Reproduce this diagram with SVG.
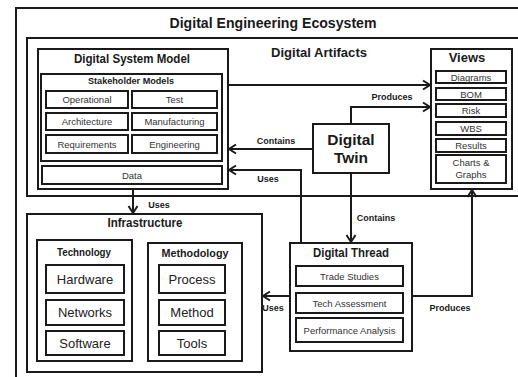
<svg xmlns="http://www.w3.org/2000/svg" width="518" height="377" viewBox="0 0 518 377">
<defs>
<style>
rect{fill:#fff;stroke:#1a1a1a;stroke-width:2}
.c{fill:none;stroke:#1a1a1a;stroke-width:2}
text{font-family:"Liberation Sans",Arial,sans-serif;fill:#1a1a1a;text-anchor:middle}
.b{font-weight:bold}
.s{font-size:9.5px;fill:#333}
.l{font-size:9px;font-weight:bold}
.m{font-size:13px;fill:#222}
</style>
<marker id="a" markerUnits="userSpaceOnUse" markerWidth="12" markerHeight="12" refX="10" refY="6" orient="auto">
<path d="M3,1.5 L10,6 L3,10.5" fill="none" stroke="#1a1a1a" stroke-width="2"/>
</marker>
</defs>
<rect width="518" height="377" style="fill:#fff;stroke:none"/>
<g id="ecosystem">
<rect x="16" y="8" width="510" height="380"/>
<text class="b" x="273" y="28" font-size="15" textLength="207" lengthAdjust="spacingAndGlyphs">Digital Engineering Ecosystem</text>
</g>
<g id="digital-artifacts">
<rect x="27" y="38" width="500" height="158"/>
<text class="b" x="319" y="57" font-size="13.5" textLength="96" lengthAdjust="spacingAndGlyphs">Digital Artifacts</text>
</g>
<g id="digital-system-model">
<rect x="38" y="49" width="190" height="140"/>
<text class="b" x="132" y="63" font-size="13" textLength="116" lengthAdjust="spacingAndGlyphs">Digital System Model</text>
<rect x="41" y="74" width="181" height="87"/>
<text class="b" x="131" y="84" font-size="9" textLength="86" lengthAdjust="spacingAndGlyphs">Stakeholder Models</text>
<rect x="46" y="91" width="82" height="17"/><text class="s" x="87" y="103">Operational</text>
<rect x="132" y="91" width="85" height="17"/><text class="s" x="174.5" y="103">Test</text>
<rect x="46" y="113" width="82" height="17"/><text class="s" x="87" y="125">Architecture</text>
<rect x="132" y="113" width="85" height="17"/><text class="s" x="174.5" y="125">Manufacturing</text>
<rect x="46" y="135" width="82" height="18"/><text class="s" x="87" y="147.5">Requirements</text>
<rect x="132" y="135" width="85" height="18"/><text class="s" x="174.5" y="147.5">Engineering</text>
<rect x="42" y="166" width="180" height="18"/><text class="s" x="132" y="178.5">Data</text>
</g>
<g id="views">
<rect x="431" y="49" width="81" height="140"/>
<text class="b" x="467" y="62" font-size="13">Views</text>
<rect x="436" y="71" width="70" height="12"/><text class="s" x="471" y="80.5">Diagrams</text>
<rect x="436" y="88" width="70" height="12"/><text class="s" x="471" y="97.5">BOM</text>
<rect x="436" y="104" width="70" height="13"/><text class="s" x="471" y="114">Risk</text>
<rect x="436" y="122" width="70" height="13"/><text class="s" x="471" y="132">WBS</text>
<rect x="436" y="139" width="70" height="13"/><text class="s" x="471" y="149">Results</text>
<rect x="436" y="155" width="70" height="28"/><text class="s" x="471" y="166">Charts &amp;</text><text class="s" x="471" y="178">Graphs</text>
</g>
<g id="digital-twin">
<rect x="313" y="124" width="76" height="49"/>
<text class="b" x="351" y="145" font-size="15.5">Digital</text>
<text class="b" x="351" y="163" font-size="15.5">Twin</text>
</g>
<g id="digital-thread">
<rect x="290" y="243" width="122" height="108"/>
<text class="b" x="351" y="257" font-size="13" textLength="76" lengthAdjust="spacingAndGlyphs">Digital Thread</text>
<rect x="296" y="266" width="107" height="20"/><text class="s" x="349.5" y="279.5">Trade Studies</text>
<rect x="296" y="293" width="107" height="20"/><text class="s" x="349.5" y="306.5">Tech Assessment</text>
<rect x="296" y="318" width="107" height="24"/><text class="s" x="349.5" y="333.5">Performance  Analysis</text>
</g>
<g id="infrastructure">
<rect x="27" y="214" width="235" height="158"/>
<text class="b" x="145" y="227" font-size="13" textLength="75" lengthAdjust="spacingAndGlyphs">Infrastructure</text>
<rect x="37" y="240" width="95" height="121"/>
<text class="b" x="84" y="256" font-size="11.5" textLength="54" lengthAdjust="spacingAndGlyphs">Technology</text>
<rect x="46" y="265" width="78" height="28"/><text class="m" x="85" y="283.5">Hardware</text>
<rect x="46" y="300" width="78" height="25"/><text class="m" x="85" y="317">Networks</text>
<rect x="46" y="331" width="78" height="24"/><text class="m" x="85" y="347.5">Software</text>
<rect x="148" y="243" width="94" height="118"/>
<text class="b" x="195" y="257" font-size="11.5" textLength="67" lengthAdjust="spacingAndGlyphs">Methodology</text>
<rect x="159" y="265" width="66" height="28"/><text class="m" x="192" y="283.5">Process</text>
<rect x="159" y="300" width="66" height="25"/><text class="m" x="192" y="317">Method</text>
<rect x="159" y="331" width="66" height="24"/><text class="m" x="192" y="347.5">Tools</text>
</g>
<g id="connectors">
<path class="c" d="M228,85 H430" marker-end="url(#a)"/>
<path class="c" d="M351,124 V107 H430" marker-end="url(#a)"/>
<path class="c" d="M313,149 H229" marker-end="url(#a)"/>
<path class="c" d="M301,243 V170 H229" marker-end="url(#a)"/>
<path class="c" d="M351,173 V242" marker-end="url(#a)"/>
<path class="c" d="M412,296 H472 V190" marker-end="url(#a)"/>
<path class="c" d="M290,296 H263" marker-end="url(#a)"/>
<path class="c" d="M133,189 V213" marker-end="url(#a)"/>
<text class="l" x="392" y="100">Produces</text>
<text class="l" x="276" y="144">Contains</text>
<text class="l" x="268" y="182">Uses</text>
<text class="l" x="376" y="221">Contains</text>
<text class="l" x="450" y="311">Produces</text>
<text class="l" x="273" y="311">Uses</text>
<text class="l" x="159" y="208">Uses</text>
</g>
</svg>
